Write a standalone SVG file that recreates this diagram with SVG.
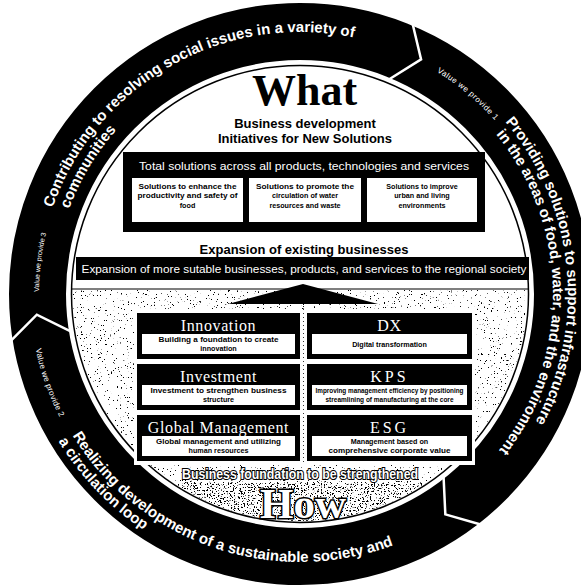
<svg xmlns="http://www.w3.org/2000/svg" width="581" height="585" viewBox="0 0 581 585">
<defs>
<style>
.rt{font-family:"Liberation Sans",Arial,sans-serif;font-weight:bold;fill:#fff;font-size:15px;text-anchor:middle}
.val{font-family:"Liberation Sans",Arial,sans-serif;fill:#fff;font-size:8px;text-anchor:middle}
.hd{font-family:"Liberation Serif","Times New Roman",serif;fill:#fff;font-size:16px;text-anchor:middle;letter-spacing:0.6px}
.sm{font-family:"Liberation Sans",Arial,sans-serif;font-weight:bold;font-size:7.2px;text-anchor:middle;fill:#000}
.bk{fill:#000}
.wb{fill:#fff}
.chev{fill:none;stroke:#fff;stroke-width:2.5;stroke-linejoin:miter}
.bt{font-family:"Liberation Sans",Arial,sans-serif;font-weight:bold;font-size:13px;text-anchor:middle;fill:#000}
.wt{font-family:"Liberation Sans",Arial,sans-serif;font-size:11px;text-anchor:middle;fill:#fff}
</style>
<path id="p1" d="M41.98,248.50 A262,262 0 0 1 393.89,49.40"/>
<path id="p2" d="M57.74,251.28 A246,246 0 0 1 148.55,100.15"/>
<path id="p3" d="M42.97,339.32 A261,261 0 0 1 61.56,187.84"/>
<path id="p4" d="M389.27,48.74 A261,261 0 0 1 526.03,163.5"/>
<path id="p5" d="M434,62 A268,268 0 0 1 477.6,494.7"/>
<path id="p6" d="M445.1,86.8 A253,253 0 0 1 448.7,498.7"/>
<path id="p7" d="M30,294 A270,270 0 0 0 90.17,463.92"/>
<path id="p8" d="M48.16,385.66 A268,268 0 0 0 443.21,520.53"/>
<path id="p9" d="M34.07,390.79 A283,283 0 0 0 193.07,556.02"/>
<clipPath id="inner"><circle cx="300" cy="294" r="227"/></clipPath>
<filter id="nz1" x="0" y="0" width="1" height="1">
<feTurbulence type="fractalNoise" baseFrequency="0.7" numOctaves="3" seed="5"/>
<feColorMatrix type="matrix" values="0 0 0 0 0  0 0 0 0 0  0 0 0 0 0  -20 0 0 0 6.1"/>
</filter>
<filter id="nz2" x="0" y="0" width="1" height="1">
<feTurbulence type="fractalNoise" baseFrequency="0.7" numOctaves="3" seed="11"/>
<feColorMatrix type="matrix" values="0 0 0 0 0  0 0 0 0 0  0 0 0 0 0  -18 0 0 0 7.0"/>
</filter>
<polyline id="chv" class="chev" points="595,294 563,317 531,294"/>
</defs>
<rect x="0" y="0" width="581" height="585" fill="#fff"/>

<g id="ring">
<circle cx="300" cy="294" r="262.5" fill="none" stroke="#000" stroke-width="57"/>
<use href="#chv" transform="rotate(-67.7 300 294)"/>
<use href="#chv" transform="rotate(170.5 300 294)"/>
<use href="#chv" transform="rotate(51.6 300 294)"/>
<text class="rt"><textPath href="#p1" startOffset="50%">Contributing to resolving social issues in a variety of</textPath></text>
<text class="rt"><textPath href="#p2" startOffset="50%">communities</textPath></text>
<text class="val" style="font-size:7px"><textPath href="#p3" startOffset="50%">Value we provide 3</textPath></text>
<text class="val" style="letter-spacing:0.5px"><textPath href="#p4" startOffset="50%">Value we provide 1</textPath></text>
<text class="rt"><textPath href="#p5" startOffset="50%">Providing solutions to support infrastructure</textPath></text>
<text class="rt"><textPath href="#p6" startOffset="50%">in the areas of food, water, and the environment</textPath></text>
<text class="val" style="letter-spacing:0.3px"><textPath href="#p7" startOffset="50%">Value we provide 2</textPath></text>
<text class="rt"><textPath href="#p8" startOffset="50%">Realizing development of a sustainable society and</textPath></text>
<text class="rt"><textPath href="#p9" startOffset="50%">a circulation loop</textPath></text>
</g>

<circle cx="300" cy="294" r="228.5" fill="none" stroke="#000" stroke-width="1.5"/>

<g id="how-area" clip-path="url(#inner)">
<rect x="70" y="290" width="462" height="240" fill="#fff" filter="url(#nz1)"/>
<rect x="70" y="482" width="462" height="52" fill="#fff" filter="url(#nz2)"/>
</g>
<line x1="72" y1="289" x2="528" y2="289" stroke="#000" stroke-width="1.2"/>

<g id="connectors">
<polygon points="228,304 303,284 378,304" class="bk"/>
</g>

<rect x="134" y="309" width="341" height="156" class="wb"/>
<line x1="303.5" y1="309" x2="303.5" y2="465" stroke="#000" stroke-width="0.8" stroke-dasharray="1 3"/>

<g id="innovation">
<rect x="137" y="313" width="163" height="46" class="bk"/>
<text class="hd" x="218.5" y="331">Innovation</text>
<rect x="142" y="334" width="153" height="20" class="wb"/>
<text class="sm" x="218.5" y="341.5" textLength="120" lengthAdjust="spacingAndGlyphs">Building a foundation to create</text>
<text class="sm" x="218.5" y="351">innovation</text>
</g>
<g id="dx">
<rect x="307" y="313" width="165" height="46" class="bk"/>
<text class="hd" x="389.5" y="331">DX</text>
<rect x="312" y="334" width="155" height="20" class="wb"/>
<text class="sm" x="389.5" y="347">Digital transformation</text>
</g>
<g id="investment">
<rect x="137" y="364" width="163" height="46" class="bk"/>
<text class="hd" x="218.5" y="382">Investment</text>
<rect x="142" y="385" width="153" height="20" class="wb"/>
<text class="sm" x="218.5" y="392.5" textLength="136" lengthAdjust="spacingAndGlyphs">Investment to strengthen business</text>
<text class="sm" x="218.5" y="402">structure</text>
</g>
<g id="kps">
<rect x="307" y="364" width="165" height="46" class="bk"/>
<text class="hd" x="389.5" y="382" style="letter-spacing:3px">KPS</text>
<rect x="312" y="385" width="155" height="20" class="wb"/>
<text class="sm" x="389.5" y="392.5" textLength="148" lengthAdjust="spacingAndGlyphs">Improving management efficiency by positioning</text>
<text class="sm" x="389.5" y="402" textLength="128" lengthAdjust="spacingAndGlyphs">streamlining of manufacturing at the core</text>
</g>
<g id="global-management">
<rect x="137" y="415" width="163" height="46" class="bk"/>
<text class="hd" x="218.5" y="433">Global Management</text>
<rect x="142" y="436" width="153" height="20" class="wb"/>
<text class="sm" x="218.5" y="443.5" textLength="125" lengthAdjust="spacingAndGlyphs">Global management and utilizing</text>
<text class="sm" x="218.5" y="453">human resources</text>
</g>
<g id="esg">
<rect x="307" y="415" width="165" height="46" class="bk"/>
<text class="hd" x="389.5" y="433" style="letter-spacing:3px">ESG</text>
<rect x="312" y="436" width="155" height="20" class="wb"/>
<text class="sm" x="389.5" y="443.5">Management based on</text>
<text class="sm" x="389.5" y="453" textLength="122" lengthAdjust="spacingAndGlyphs">comprehensive corporate value</text>
</g>

<g id="how">
<text x="300" y="479" font-family="'Liberation Sans',Arial,sans-serif" font-weight="bold" font-size="15" text-anchor="middle" textLength="236" lengthAdjust="spacingAndGlyphs" fill="#fff" stroke="#000" stroke-width="2.2" paint-order="stroke">Business foundation to be strengthened</text>
<text x="303" y="518" font-family="'Liberation Serif','Times New Roman',serif" font-weight="bold" font-size="43" text-anchor="middle" fill="#fff" stroke="#000" stroke-width="3" paint-order="stroke">How</text>
</g>

<g id="what">
<text x="304.5" y="105" font-family="'Liberation Serif','Times New Roman',serif" font-weight="bold" font-size="44" text-anchor="middle" fill="#000">What</text>
<text class="bt" x="305" y="128">Business development</text>
<text class="bt" x="305" y="143">Initiatives for New Solutions</text>
</g>

<g id="total-solutions">
<rect x="123" y="152" width="362" height="80" class="bk"/>
<text class="wt" x="304" y="170" textLength="330" lengthAdjust="spacingAndGlyphs">Total solutions across all products, technologies and services</text>
</g>
<g id="sol-food">
<rect x="132" y="178" width="111" height="44" class="wb"/>
<text class="sm" x="187.5" y="188.5" textLength="98" lengthAdjust="spacingAndGlyphs">Solutions to enhance the</text>
<text class="sm" x="187.5" y="198" textLength="100" lengthAdjust="spacingAndGlyphs">productivity and safety of</text>
<text class="sm" x="187.5" y="207.5">food</text>
</g>
<g id="sol-water">
<rect x="249" y="178" width="112" height="44" class="wb"/>
<text class="sm" x="305" y="188.5" textLength="98" lengthAdjust="spacingAndGlyphs">Solutions to promote the</text>
<text class="sm" x="305" y="198">circulation of water</text>
<text class="sm" x="305" y="207.5">resources and waste</text>
</g>
<g id="sol-urban">
<rect x="367" y="178" width="110" height="44" class="wb"/>
<text class="sm" x="422" y="188.5">Solutions to improve</text>
<text class="sm" x="422" y="198">urban and living</text>
<text class="sm" x="422" y="207.5">environments</text>
</g>

<g id="expansion">
<text class="bt" x="304" y="254">Expansion of existing businesses</text>
<rect x="76" y="257" width="453" height="23" class="bk"/>
<text class="wt" x="304" y="273" textLength="445" lengthAdjust="spacingAndGlyphs">Expansion of more sutable businesses, products, and services to the regional society</text>
</g>
</svg>
